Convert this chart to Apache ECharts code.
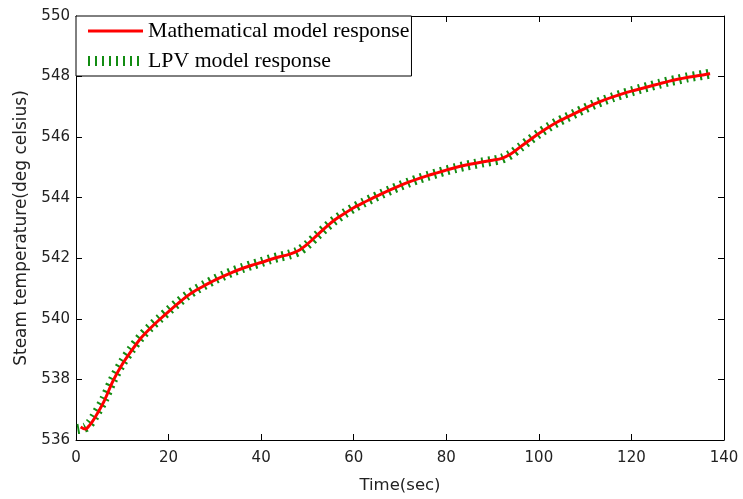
<!DOCTYPE html>
<html>
<head>
<meta charset="utf-8">
<script src="https://cdn.jsdelivr.net/npm/echarts@6/dist/echarts.min.js"></script>
<style>html,body{margin:0;padding:0;background:#fff;}#c{width:743px;height:499px;}</style>
</head>
<body>
<div id="c"></div>
<script>
// Time (sec)
var timeMath = [1,2,3,4,6,8,10,12,14,16,18,20,22,24,26,28,30,32,34,36,38,40,42,44,46,48,50,52,54,56,58,60,62,64,66,68,70,72,74,76,78,80,82,84,86,88,90,92,94,96,98,100,102,104,106,108,110,112,114,116,118,120,122,124,126,128,130,132,134,136,137];
var mathValues = [536.43,536.36,536.5,536.72,537.26,537.95,538.5,538.95,539.36,539.68,539.97,540.24,540.5,540.75,540.95,541.12,541.28,541.42,541.55,541.67,541.77,541.86,541.96,542.05,542.13,542.25,542.47,542.75,543.03,543.28,543.48,543.67,543.83,543.98,544.13,544.27,544.4,544.52,544.63,544.73,544.82,544.91,545.0,545.07,545.13,545.19,545.24,545.3,545.45,545.68,545.9,546.12,546.32,546.5,546.65,546.8,546.95,547.1,547.22,547.33,547.43,547.52,547.6,547.68,547.76,547.84,547.91,547.97,548.02,548.07,548.09];
var timeLPV = [0.3,2,3,4,6,8,10,12,14,16,18,20,22,24,26,28,30,32,34,36,38,40,42,44,46,48,50,52,54,56,58,60,62,64,66,68,70,72,74,76,78,80,82,84,86,88,90,92,94,96,98,100,102,104,106,108,110,112,114,116,118,120,122,124,126,128,130,132,134,136,137];
var lpvValues = [536.36,536.42,536.55,536.78,537.32,538.0,538.55,539.0,539.4,539.72,540.0,540.27,540.53,540.77,540.97,541.14,541.3,541.44,541.57,541.68,541.78,541.87,541.97,542.05,542.12,542.23,542.45,542.74,543.02,543.27,543.48,543.67,543.83,543.98,544.12,544.26,544.39,544.51,544.62,544.72,544.81,544.9,544.98,545.05,545.11,545.17,545.22,545.29,545.44,545.67,545.9,546.12,546.32,546.5,546.65,546.8,546.95,547.09,547.21,547.32,547.42,547.51,547.6,547.68,547.76,547.84,547.9,547.97,548.02,548.07,548.1];
var xTicks = [0,20,40,60,80,100,120,140];
var yTicks = [536,538,540,542,544,546,548,550];
var seriesNames = ['Mathematical model response', 'LPV model response'];

function pairs(xs, ys){ return xs.map(function(x,i){ return [x, ys[i]]; }); }

var txt = '#222';
var sans = '"DejaVu Sans", sans-serif';
var redStyle = {color: '#ff0000', width: 3};
var greenStyle = {color: '#128c12', width: 10, type: [2, 5], cap: 'butt'};
var axisCommon = {
  min: 0, max: 140, interval: 20,
  axisLine: {show: true, onZero: false, lineStyle: {color: '#000', width: 1}},
  axisTick: {show: true, inside: true, length: 6, lineStyle: {color: '#000'}},
  splitLine: {show: false}
};
var chart = echarts.init(document.getElementById('c'), null, {renderer: 'canvas'});
chart.setOption({
  animation: false,
  backgroundColor: '#fff',
  grid: {left: 76, right: 19, top: 16, bottom: 58, containLabel: false},
  legend: {
    data: [
      {name: seriesNames[0], lineStyle: redStyle},
      {name: seriesNames[1], lineStyle: greenStyle}
    ],
    orient: 'vertical',
    left: 76, top: 16,
    backgroundColor: '#fff',
    borderColor: '#000', borderWidth: 1, borderRadius: 0,
    padding: [4, 2, 4, 7],
    itemGap: 8, itemWidth: 55, itemHeight: 14,
    itemStyle: {opacity: 0},
    textStyle: {fontFamily: '"Liberation Serif", "Times New Roman", serif', fontSize: 21.8, color: '#000'}
  },
  xAxis: [
    Object.assign({}, axisCommon, {
      type: 'value', position: 'bottom',
      name: 'Time(sec)', nameLocation: 'middle', nameGap: 37,
      nameTextStyle: {fontFamily: sans, fontSize: 16.5, color: txt},
      axisLabel: {fontFamily: sans, fontSize: 15, color: txt, margin: 11,
        formatter: function(v){ return xTicks.indexOf(v) >= 0 ? String(v) : ''; }}
    }),
    Object.assign({}, axisCommon, {type: 'value', position: 'top', axisLabel: {show: false}})
  ],
  yAxis: [
    Object.assign({}, axisCommon, {
      type: 'value', min: 536, max: 550, interval: 2, position: 'left',
      name: 'Steam temperature(deg celsius)', nameLocation: 'middle', nameGap: 45,
      nameTextStyle: {fontFamily: sans, fontSize: 17, color: txt},
      axisLabel: {fontFamily: sans, fontSize: 15, color: txt, margin: 6,
        formatter: function(v){ return yTicks.indexOf(v) >= 0 ? String(v) : ''; }}
    }),
    Object.assign({}, axisCommon, {type: 'value', min: 536, max: 550, interval: 2, position: 'right', axisLabel: {show: false}})
  ],
  series: [
    {
      name: seriesNames[0], type: 'line', data: pairs(timeMath, mathValues),
      showSymbol: false, symbol: 'none', smooth: 0.3, z: 4,
      lineStyle: redStyle,
      itemStyle: {color: '#ff0000'}
    },
    {
      name: seriesNames[1], type: 'line', data: pairs(timeLPV, lpvValues),
      showSymbol: false, symbol: 'none', smooth: 0.3, z: 3,
      lineStyle: greenStyle,
      itemStyle: {color: '#128c12'}
    }
  ]
});
</script>
</body>
</html>
